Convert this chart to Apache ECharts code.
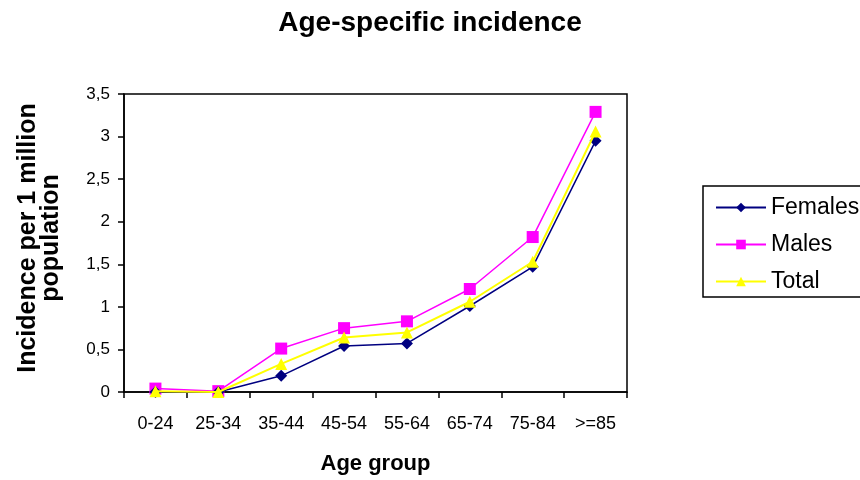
<!DOCTYPE html>
<html>
<head>
<meta charset="utf-8">
<script src="https://cdn.jsdelivr.net/npm/echarts@6/dist/echarts.min.js"></script>
<style>html,body{margin:0;padding:0;background:#fff}#c{width:860px;height:480px}</style>
</head>
<body>
<div id="c"></div>
<script>
const categories = ['0-24','25-34','35-44','45-54','55-64','65-74','75-84','>=85'];
const females = [0, 0, 0.19, 0.54, 0.57, 1.01, 1.47, 2.95];
const males = [0.04, 0.01, 0.51, 0.75, 0.83, 1.21, 1.82, 3.29];
const total = [0.01, 0, 0.33, 0.64, 0.70, 1.06, 1.53, 3.06];

const chart = echarts.init(document.getElementById('c'), null, {renderer:'canvas'});
const font = 'Liberation Sans, Arial, sans-serif';
chart.setOption({
  animation:false,
  backgroundColor:'#fff',
  textStyle:{fontFamily:font},
  title:{text:'Age-specific incidence', left:'center', top:4,
    textStyle:{fontSize:28, fontWeight:'bold', color:'#000', fontFamily:font}},
  grid:{left:124, right:233, top:94, bottom:88, outerBoundsMode:'none', containLabel:false,
    show:true, borderColor:'#000', borderWidth:1.5, backgroundColor:'#fff'},
  legend:{orient:'vertical', left:703, top:186, itemWidth:50, itemHeight:12, itemGap:14,
    padding:[10,60,4,12], borderColor:'#000', borderWidth:1.5,
    textStyle:{fontSize:23, color:'#000', fontFamily:font},
    data:['Females','Males','Total']},
  xAxis:{type:'category', data:categories, boundaryGap:true,
    name:'Age group', nameLocation:'middle', nameGap:61,
    nameTextStyle:{fontSize:22, fontWeight:'bold', color:'#000', fontFamily:font},
    axisLine:{lineStyle:{color:'#000', width:1.5}},
    axisTick:{show:true, inside:false, length:6, lineStyle:{color:'#000', width:1.5}},
    axisLabel:{fontSize:18, color:'#000', margin:23, interval:0}},
  yAxis:{type:'value', min:0, max:3.5, interval:0.5,
    name:'Incidence per 1 million\npopulation', nameLocation:'middle', nameGap:61, nameRotate:90,
    nameTextStyle:{fontSize:25, fontWeight:'bold', color:'#000', lineHeight:23, fontFamily:font, padding:[0,0,0,10]},
    axisLine:{show:true, lineStyle:{color:'#000', width:1.5}},
    axisTick:{show:true, length:6, lineStyle:{color:'#000', width:1.5}},
    splitLine:{show:false},
    axisLabel:{fontSize:17, color:'#000', margin:14,
      formatter:v => String(v).replace('.', ',')}},
  series:[
    {name:'Females', type:'line', data:females, color:'#000080', symbol:'diamond', symbolSize:12,
      lineStyle:{width:1.5, color:'#000080'}, itemStyle:{color:'#000080'}, z:3},
    {name:'Males', type:'line', data:males, color:'#FF00FF', symbol:'rect', symbolSize:12,
      lineStyle:{width:1.5, color:'#FF00FF'}, itemStyle:{color:'#FF00FF'}, z:2},
    {name:'Total', type:'line', data:total, color:'#FFFF00', symbol:'triangle', symbolSize:12,
      lineStyle:{width:2, color:'#FFFF00'}, itemStyle:{color:'#FFFF00'}, z:4}
  ]
});
</script>
</body>
</html>
